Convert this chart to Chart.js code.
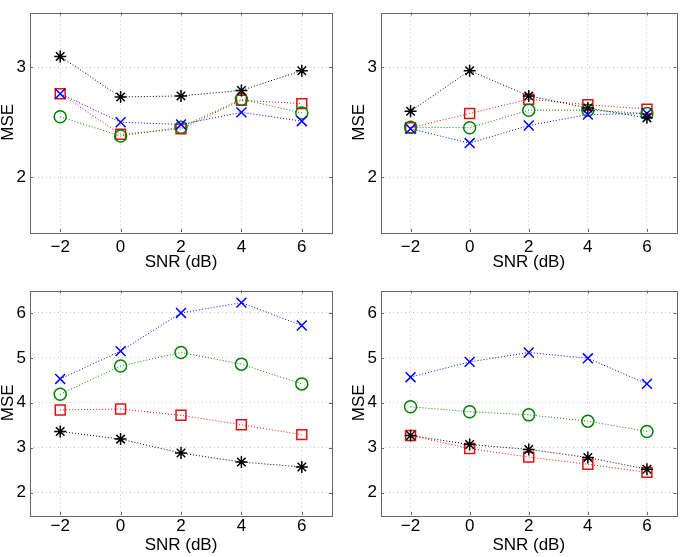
<!DOCTYPE html>
<html>
<head>
<meta charset="utf-8">
<script src="https://cdn.jsdelivr.net/npm/chart.js@4.4.0/dist/chart.umd.min.js"></script>
<style>
html, body { margin: 0; padding: 0; background: #fff; }
#wrap { position: relative; width: 685px; height: 557px; }
.panel { position: absolute; }
</style>
</head>
<body>
<div id="wrap">
  <div class="panel" style="left:0;top:0;width:342px;height:278px"><canvas id="c0"></canvas></div>
  <div class="panel" style="left:342px;top:0;width:343px;height:278px"><canvas id="c1"></canvas></div>
  <div class="panel" style="left:0;top:278px;width:342px;height:279px"><canvas id="c2"></canvas></div>
  <div class="panel" style="left:342px;top:278px;width:343px;height:279px"><canvas id="c3"></canvas></div>
</div>
<script>
// x positions and tick values
const snr = [-2, 0, 2, 4, 6];
const xTicks = [-2, 0, 2, 4, 6];
const yTicksTop = [2, 3];
const yTicksBottom = [2, 3, 4, 5, 6];

// top-left panel
const tlBlue = [2.76, 2.50, 2.48, 2.59, 2.51];
const tlGreen = [2.55, 2.375, 2.455, 2.71, 2.585];
const tlRed = [2.76, 2.39, 2.44, 2.70, 2.67];
const tlBlack = [3.10, 2.73, 2.74, 2.79, 2.97];

// top-right panel
const trBlue = [2.44, 2.31, 2.47, 2.57, 2.58];
const trGreen = [2.455, 2.45, 2.61, 2.61, 2.58];
const trRed = [2.45, 2.58, 2.71, 2.66, 2.62];
const trBlack = [2.60, 2.97, 2.74, 2.63, 2.54];

// bottom-left panel
const blBlue = [4.53, 5.15, 6.00, 6.23, 5.72];
const blGreen = [4.19, 4.82, 5.12, 4.86, 4.42];
const blRed = [3.84, 3.86, 3.72, 3.51, 3.29];
const blBlack = [3.36, 3.19, 2.88, 2.68, 2.57];

// bottom-right panel
const brBlue = [4.57, 4.91, 5.12, 4.99, 4.42];
const brGreen = [3.91, 3.80, 3.73, 3.59, 3.36];
const brRed = [3.27, 2.98, 2.79, 2.63, 2.45];
const brBlack = [3.27, 3.07, 2.96, 2.78, 2.52];

const FONT = { family: 'Liberation Sans, Arial, sans-serif', size: 17, lineHeight: 1 };
const GRID_COLOR = '#c8c8c8';
const BOX_COLOR = '#666';

// 坐标框 + 内向刻度
const boxPlugin = {
  id: 'box',
  afterDatasetsDraw(chart) {
    const { ctx, chartArea: a, scales } = chart;
    ctx.save();
    ctx.strokeStyle = BOX_COLOR;
    ctx.lineWidth = 1;
    ctx.beginPath();
    scales.x.ticks.forEach(t => {
      const px = Math.round(scales.x.getPixelForValue(t.value)) + 0.5;
      ctx.moveTo(px, a.bottom); ctx.lineTo(px, a.bottom - 3);
      ctx.moveTo(px, a.top); ctx.lineTo(px, a.top + 3);
    });
    scales.y.ticks.forEach(t => {
      const py = Math.round(scales.y.getPixelForValue(t.value)) + 0.5;
      ctx.moveTo(a.left, py); ctx.lineTo(a.left + 3, py);
      ctx.moveTo(a.right, py); ctx.lineTo(a.right - 3, py);
    });
    ctx.stroke();
    ctx.strokeRect(Math.round(a.left) + 0.5, Math.round(a.top) + 0.5,
      Math.round(a.right - a.left), Math.round(a.bottom - a.top));
    ctx.restore();
  }
};

function series(values, color, style, radius, order) {
  return {
    data: snr.map((x, i) => ({ x: x, y: values[i] })),
    borderColor: color,
    backgroundColor: 'transparent',
    borderWidth: 1,
    borderDash: [1, 2],
    pointStyle: style,
    pointRadius: radius,
    pointBorderColor: color,
    pointBackgroundColor: 'transparent',
    pointBorderWidth: 1.5,
    showLine: true,
    fill: false,
    tension: 0,
    order: order
  };
}

function fmt(v) {
  return v < 0 ? '\u2212' + Math.abs(v) : String(v);
}

function makeChart(id, yMin, yMax, yTicks, vals, lay) {
  const [blue, green, red, black] = vals;
  new Chart(document.getElementById(id), {
    type: 'scatter',
    data: {
      datasets: [
        series(black, '#000000', 'star', 6, 0),
        series(blue, '#0000ff', 'crossRot', 7, 1),
        series(green, '#008000', 'circle', 6, 2),
        series(red, '#e01010', 'rect', 7, 3)
      ]
    },
    options: {
      responsive: true,
      maintainAspectRatio: false,
      animation: false,
      layout: { padding: { top: lay.top, right: lay.right, left: 0, bottom: 0 } },
      plugins: { legend: { display: false }, tooltip: { enabled: false } },
      scales: {
        x: {
          type: 'linear', min: -3, max: 7,
          afterBuildTicks: s => { s.ticks = xTicks.map(v => ({ value: v })); },
          afterFit: s => { s.height = lay.xh; },
          grid: { color: GRID_COLOR, drawTicks: false, borderDash: [1, 3] },
          border: { display: false, dash: [1, 3] },
          ticks: { color: '#000', font: FONT, padding: lay.xtp, maxRotation: 0, callback: fmt },
          title: { display: true, text: 'SNR (dB)', color: '#000', font: FONT, padding: { top: 0, bottom: lay.xtitle } }
        },
        y: {
          type: 'linear', min: yMin, max: yMax,
          afterBuildTicks: s => { s.ticks = yTicks.map(v => ({ value: v })); },
          afterFit: s => { s.width = lay.yw; },
          grid: { color: GRID_COLOR, drawTicks: false, borderDash: [1, 3] },
          border: { display: false, dash: [1, 3] },
          ticks: { color: '#000', font: FONT, padding: 4, callback: fmt },
          title: { display: true, text: 'MSE', color: '#000', font: FONT, padding: { top: lay.ytitle, bottom: 0 } }
        }
      }
    },
    plugins: [boxPlugin]
  });
}

makeChart('c0', 1.5, 3.5, yTicksTop, [tlBlue, tlGreen, tlRed, tlBlack],
  { top: 1, right: 10, xh: 46, yw: 30, xtp: 7, xtitle: 7, ytitle: 0 });
makeChart('c1', 1.5, 3.5, yTicksTop, [trBlue, trGreen, trRed, trBlack],
  { top: 1, right: 1, xh: 46, yw: 39, xtp: 7, xtitle: 7, ytitle: 8.5 });
makeChart('c2', 1.5, 6.5, yTicksBottom, [blBlue, blGreen, blRed, blBlack],
  { top: 7, right: 10, xh: 42, yw: 30, xtp: 3, xtitle: 3.5, ytitle: 0 });
makeChart('c3', 1.5, 6.5, yTicksBottom, [brBlue, brGreen, brRed, brBlack],
  { top: 7, right: 1, xh: 42, yw: 39, xtp: 3, xtitle: 3.5, ytitle: 8.5 });
</script>
</body>
</html>
